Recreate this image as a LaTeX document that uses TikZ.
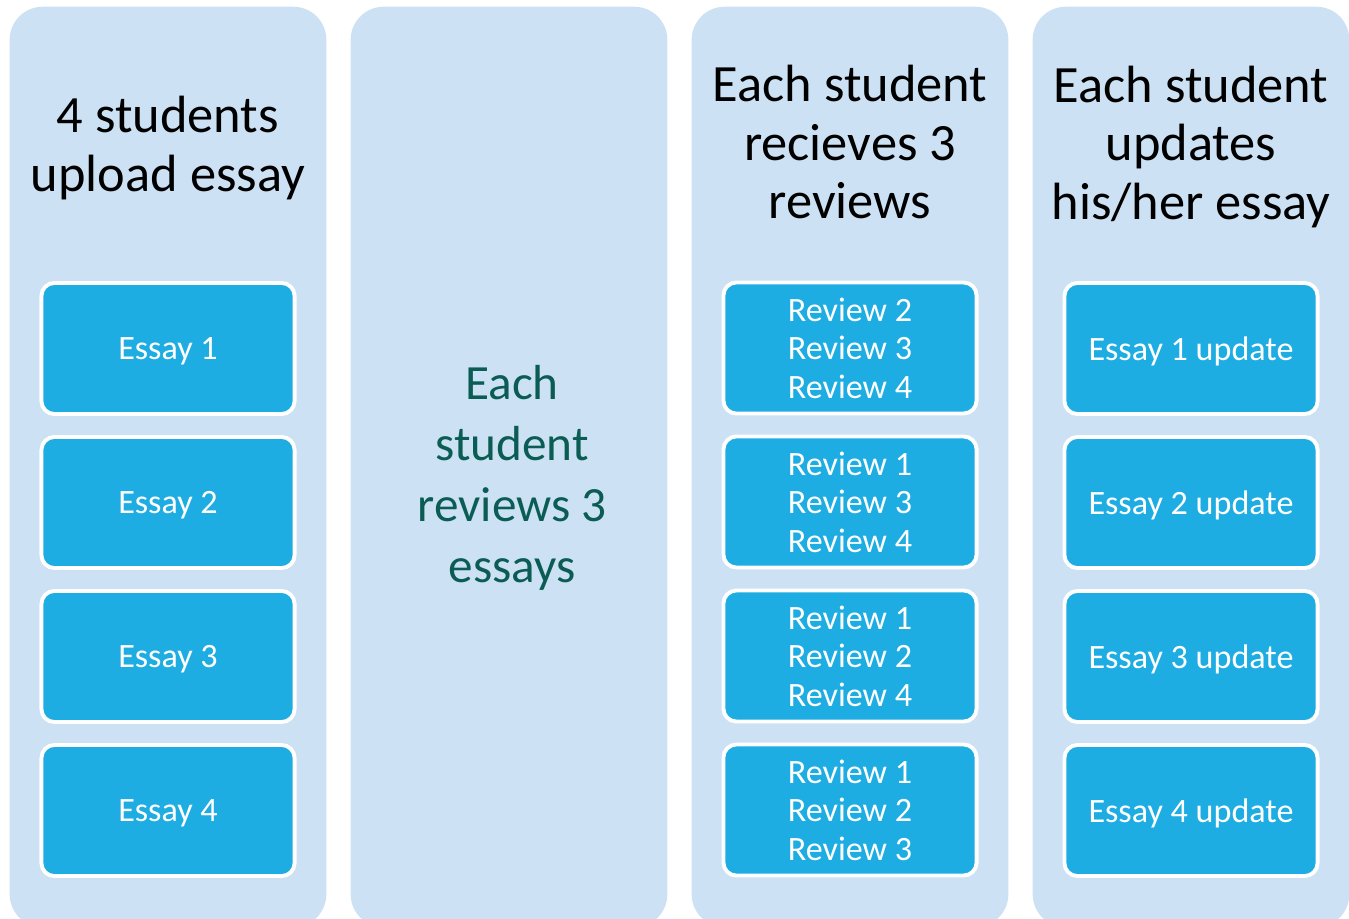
\documentclass[tikz,border=0pt]{standalone}
\usepackage{fontspec}
\setmainfont{Carlito}
\definecolor{colbg}{HTML}{CCE2F4}
\definecolor{boxbg}{HTML}{1EADE3}
\definecolor{teal}{HTML}{0A5C54}
\tikzset{
  column/.style={fill=colbg, draw=none, rounded corners=0.33cm, minimum width=3.165cm, minimum height=9.2cm, inner sep=0pt},
  item/.style={fill=boxbg, draw=white, line width=1.1pt, rounded corners=0.13cm, minimum width=2.53cm, minimum height=1.31cm, inner sep=0pt, text=white, align=center, font=\fontsize{9.7pt}{10.95pt}\selectfont},
  single/.style={item, text depth=0pt},
  header/.style={align=center, font=\fontsize{14.9pt}{16.6pt}\selectfont, text=black, inner sep=0pt},
  midtext/.style={align=center, font=\fontsize{14pt}{17.35pt}\selectfont, text=teal, inner sep=0pt}
}
\begin{document}
\begin{tikzpicture}[x={(0.01cm,0)}, y={(0,-0.01cm)}]
\useasboundingbox (0,0) rectangle (1349,918);
\fill[white] (0,0) rectangle (1349,918);
% columns
\node[column] (c1) at (168,467) {};
\node[column] (c2) at (509,467) {};
\node[column] (c3) at (850,467) {};
\node[column] (c4) at (1191,467) {};
% headers
\node[header] (h1) at (168,148) {4 students\\upload essay};
\node[midtext] (h2) at (512,478) {Each\\student\\reviews 3\\essays};
\node[header] (h3) at (850,142) {Each student\\recieves 3\\reviews};
\node[header] (h4) at (1191,147) {Each student\\updates\\his/her essay};
% column 1
\node[single] (e1) at (168,348.5) {Essay 1};
\node[single] (e2) at (168,502.5) {Essay 2};
\node[single] (e3) at (168,656.5) {Essay 3};
\node[single] (e4) at (168,810.5) {Essay 4};
% column 3
\node[item] (r1) at (850,348) {Review 2\\Review 3\\Review 4};
\node[item] (r2) at (850,502) {Review 1\\Review 3\\Review 4};
\node[item] (r3) at (850,656) {Review 1\\Review 2\\Review 4};
\node[item] (r4) at (850,810) {Review 1\\Review 2\\Review 3};
% column 4
\node[single] (u1) at (1191,348.5) {Essay 1 update};
\node[single] (u2) at (1191,502.5) {Essay 2 update};
\node[single] (u3) at (1191,656.5) {Essay 3 update};
\node[single] (u4) at (1191,810.5) {Essay 4 update};
\end{tikzpicture}
\end{document}
